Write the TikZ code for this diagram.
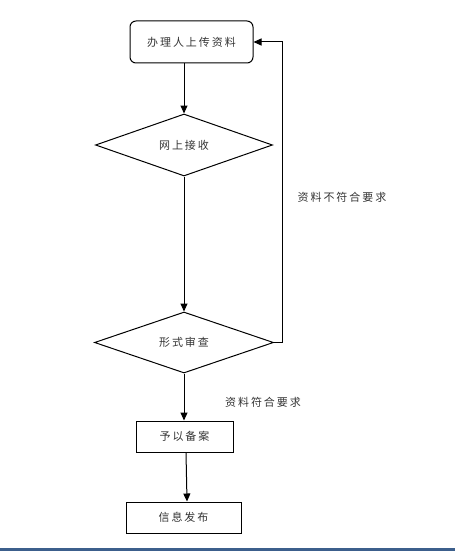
\documentclass[tikz,border=0pt]{standalone}
\usepackage{fontspec}
\newfontfamily\cjk[LetterSpace=18]{Noto Sans CJK SC}
\usetikzlibrary{shapes.geometric,arrows.meta}
\definecolor{barblue}{HTML}{3C5F8C}
\tikzset{
  every node/.style={font=\cjk\fontsize{11}{13}\selectfont, text=black!80},
  boxnode/.style={draw=black, line width=1pt, rectangle, inner sep=0pt},
  diam/.style={draw=black, line width=1pt, diamond, inner sep=0pt},
  conn/.style={draw=black, line width=1pt, -{Triangle[length=8pt,width=7pt]}},
  lbl/.style={inner sep=0pt}
}
\begin{document}
\begin{tikzpicture}[x=1pt,y=-1pt]
\useasboundingbox (0,0) rectangle (455,551);
\fill[barblue] (0,548) rectangle (455,551);
\node[boxnode, rounded corners=6pt, minimum width=123pt, minimum height=42pt] (b1) at (191.5,42) {办理人上传资料};
\node[diam, minimum width=177pt, minimum height=62pt] (d1) at (184,145) {网上接收};
\node[diam, minimum width=179pt, minimum height=61pt] (d2) at (184,342.5) {形式审查};
\node[boxnode, minimum width=97pt, minimum height=31pt] (b3) at (184.5,436.5) {予以备案};
\node[boxnode, minimum width=115pt, minimum height=31pt] (b4) at (183.5,517.5) {信息发布};
\node[lbl] (l1) at (342,197) {资料不符合要求};
\node[lbl] (l2) at (263,402) {资料符合要求};
\coordinate (c1) at (282,342.5);
\coordinate (c2) at (282,42);
\draw[conn] (d1.north |- b1.south) -- (d1.north);
\draw[conn] (d1.south) -- (d2.north);
\draw[conn] (d2.south) -- (d2.south |- b3.north);
\draw[conn] ([xshift=1.5pt]b3.south) -- ([xshift=3.5pt]b4.north);
\draw[conn] (d2.east) -- (c1) -- (c2) -- (b1.east);
\end{tikzpicture}
\end{document}
